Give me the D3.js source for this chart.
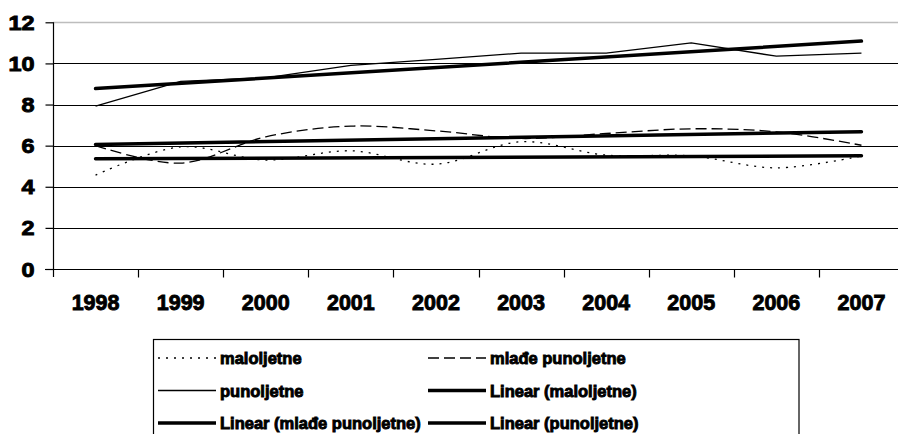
<!DOCTYPE html>
<html>
<head>
<meta charset="utf-8">
<script src="https://d3js.org/d3.v7.min.js"></script>
<style>
  body { margin: 0; background: #fff; }
  svg { display: block; }
  text { font-family: "Liberation Sans", Arial, sans-serif; font-weight: 700; fill: #000; stroke: #000; stroke-width: 0.9px; }
</style>
</head>
<body>
<div id="chart"></div>
<script>
// data
var years = ["1998", "1999", "2000", "2001", "2002", "2003", "2004", "2005", "2006", "2007"];
var maloljetne = [4.57, 5.94, 5.30, 5.75, 5.10, 6.19, 5.54, 5.50, 4.92, 5.50];
var mladePunoljetne = [6.00, 5.15, 6.43, 6.95, 6.72, 6.35, 6.59, 6.82, 6.67, 6.02];
var punoljetne = [7.92, 9.13, 9.30, 9.90, 10.20, 10.50, 10.50, 11.00, 10.35, 10.50];
var yTicks = [0, 2, 4, 6, 8, 10, 12];

var width = 898, height = 434;

var svg = d3.select("#chart").append("svg")
    .attr("width", width)
    .attr("height", height);

var x = d3.scaleBand()
    .domain(years)
    .range([53, 904]);

var y = d3.scaleLinear()
    .domain([0, 12])
    .range([269, 22.3]);

function cx(i) { return x(years[i]) + x.bandwidth() / 2; }

// gridlines
svg.append("g")
    .selectAll("line")
    .data(yTicks.filter(function (d) { return d > 0; }))
    .enter().append("line")
    .attr("x1", 53).attr("x2", 904)
    .attr("y1", function (d) { return Math.round(y(d)) + 0.5; })
    .attr("y2", function (d) { return Math.round(y(d)) + 0.5; })
    .attr("stroke", function (d) { return d === 12 ? "#bdbdbd" : "#000"; })
    .attr("stroke-width", function (d) { return d === 12 ? 1.5 : 1.2; });

// y axis
var yAxis = svg.append("g")
    .attr("transform", "translate(53.5,0)")
    .call(d3.axisLeft(y).tickValues(yTicks).tickSize(8).tickPadding(0).tickFormat(d3.format("d")));
yAxis.attr("font-family", null).attr("font-size", null);
yAxis.select(".domain").attr("d", "M0," + y(12) + "V277").attr("stroke", "#000").attr("stroke-width", 1.2);
yAxis.selectAll(".tick line").attr("stroke", "#000").attr("stroke-width", 1.2);
yAxis.selectAll(".tick text")
    .attr("x", 0)
    .attr("dy", "0.36em")
    .style("font-size", "19.5px")
    .attr("transform", "translate(-19,0) scale(1.2,1)");

// x axis
var xAxis = svg.append("g")
    .attr("transform", "translate(0,269.5)")
    .call(d3.axisBottom(x).tickSize(0).tickPadding(0));
xAxis.attr("font-family", null).attr("font-size", null);
xAxis.select(".domain").attr("d", "M45,0H904").attr("stroke", "#000").attr("stroke-width", 1.2);
xAxis.selectAll(".tick text")
    .attr("y", 40)
    .attr("dy", 0)
    .style("font-size", "21.5px");
// category separators
xAxis.selectAll(".sep")
    .data(years.slice(1))
    .enter().append("line")
    .attr("x1", function (d) { return Math.round(x(d)) + 0.5; })
    .attr("x2", function (d) { return Math.round(x(d)) + 0.5; })
    .attr("y1", 0).attr("y2", 8)
    .attr("stroke", "#000").attr("stroke-width", 1.2);

// series
var series = [
    { name: "maloljetne", values: maloljetne, dash: "2,6", curve: d3.curveCatmullRom },
    { name: "mlađe punoljetne", values: mladePunoljetne, dash: "11,5", curve: d3.curveCatmullRom },
    { name: "punoljetne", values: punoljetne, dash: null, curve: d3.curveLinear }
];

series.forEach(function (s) {
    var line = d3.line()
        .x(function (d, i) { return cx(i); })
        .y(function (d) { return y(d); })
        .curve(s.curve);
    svg.append("path")
        .datum(s.values)
        .attr("d", line)
        .attr("fill", "none")
        .attr("stroke", "#000")
        .attr("stroke-width", 1.3)
        .attr("stroke-dasharray", s.dash);
});

// linear trend lines (least squares)
function fit(vals) {
    var n = vals.length, mx = (n - 1) / 2, my = d3.mean(vals), sxy = 0, sxx = 0;
    vals.forEach(function (v, i) { sxy += (i - mx) * (v - my); sxx += (i - mx) * (i - mx); });
    var b = sxy / sxx;
    return [my - b * mx, my + b * (n - 1 - mx)];
}

series.forEach(function (s) {
    var t = fit(s.values);
    svg.append("line")
        .attr("x1", cx(0)).attr("x2", cx(years.length - 1))
        .attr("y1", y(t[0])).attr("y2", y(t[1]))
        .attr("stroke", "#000")
        .attr("stroke-width", 3.5)
        .attr("stroke-linecap", "round");
});

// legend
var legendItems = [
    { label: "maloljetne", dash: "2,6", w: 1.3 },
    { label: "mlađe punoljetne", dash: "11,5", w: 1.3 },
    { label: "punoljetne", dash: null, w: 1.3 },
    { label: "Linear (maloljetne)", dash: null, w: 3.5 },
    { label: "Linear (mlađe punoljetne)", dash: null, w: 3.5 },
    { label: "Linear (punoljetne)", dash: null, w: 3.5 }
];

svg.append("rect")
    .attr("x", 153.5).attr("y", 339.5)
    .attr("width", 645.5).attr("height", 120)
    .attr("fill", "#fff")
    .attr("stroke", "#000")
    .attr("stroke-width", 1.2);

var legend = svg.selectAll(".legend")
    .data(legendItems)
    .enter().append("g")
    .attr("class", "legend")
    .attr("transform", function (d, i) {
        return "translate(" + (i % 2 === 0 ? 158 : 428) + "," + (358 + Math.floor(i / 2) * 32.5) + ")";
    });

legend.append("line")
    .attr("x1", 0).attr("x2", 58)
    .attr("y1", 0).attr("y2", 0)
    .attr("stroke", "#000")
    .attr("stroke-width", function (d) { return d.w; })
    .attr("stroke-dasharray", function (d) { return d.dash; });

legend.append("text")
    .attr("x", 62)
    .attr("y", 6)
    .style("font-size", "16.5px")
    .text(function (d) { return d.label; });
</script>
</body>
</html>
